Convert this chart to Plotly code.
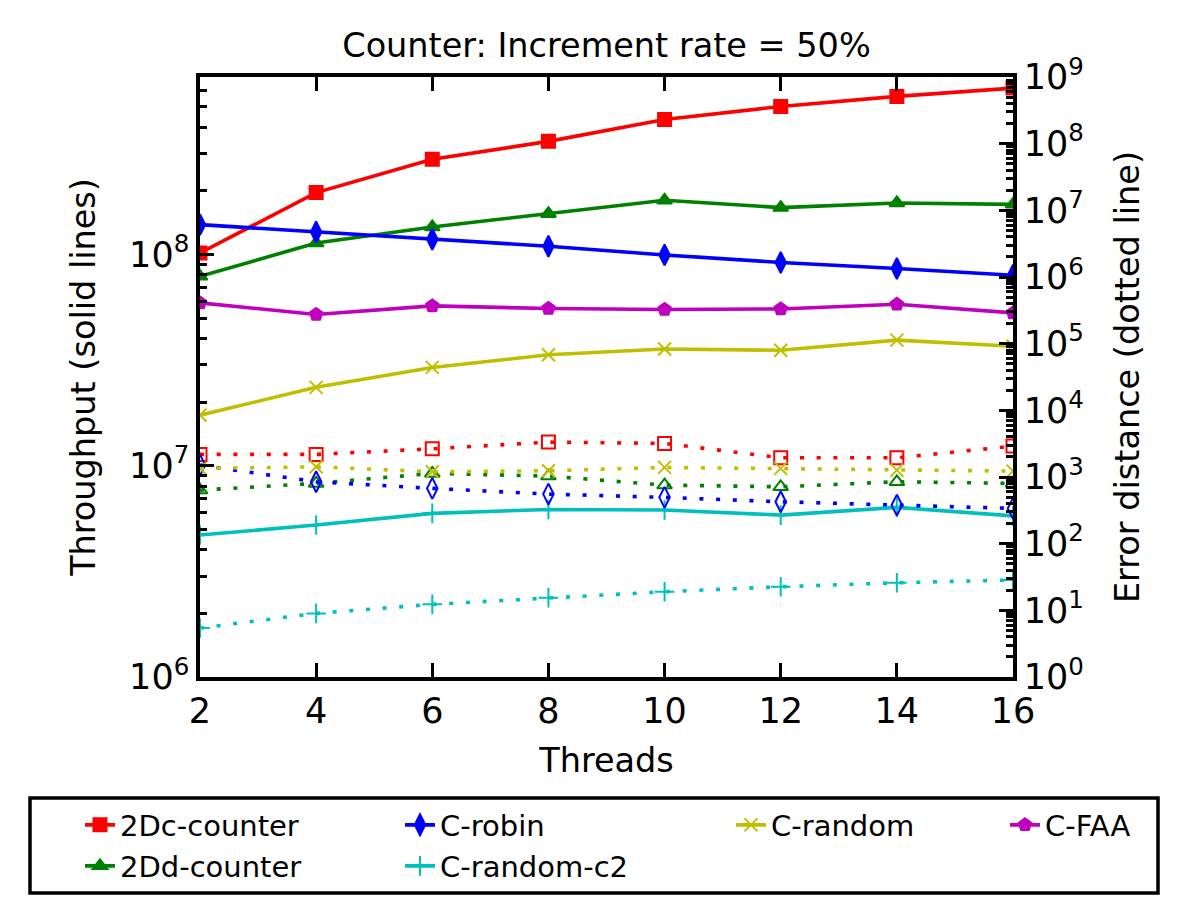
import plotly.graph_objects as go

threads = [2, 4, 6, 8, 10, 12, 14, 16]

# Throughput (left axis, solid lines)
thr_2dc = [1.016e8, 1.963e8, 2.82e8, 3.43e8, 4.35e8, 5.02e8, 5.6e8, 6.13e8]
thr_2dd = [7.88e7, 1.133e8, 1.349e8, 1.56e8, 1.805e8, 1.667e8, 1.753e8, 1.727e8]
thr_robin = [1.384e8, 1.277e8, 1.18e8, 1.094e8, 9.95e7, 9.16e7, 8.58e7, 7.97e7]
thr_faa = [5.9e7, 5.2e7, 5.71e7, 5.55e7, 5.49e7, 5.52e7, 5.81e7, 5.29e7]
thr_random = [1.735e7, 2.35e7, 2.92e7, 3.35e7, 3.57e7, 3.52e7, 3.93e7, 3.68e7]
thr_random_c2 = [4.7e6, 5.24e6, 5.95e6, 6.21e6, 6.17e6, 5.84e6, 6.35e6, 5.79e6]

# Error distance (right axis, dotted lines)
err_2dc = [2183, 2183, 2650, 3336, 3190, 1941, 1941, 2905]
err_2dd = [636, 802, 1132, 1031, 756, 713, 848, 802]
err_robin = [1508, 848, 675, 554, 495, 425, 379, 338]
err_random = [1346, 1422, 1197, 1239, 1393, 1346, 1269, 1225]
err_random_c2 = [5.43, 9.0, 12.3, 15.5, 19.0, 22.6, 25.9, 28.5]

left_tick_vals = [1e6, 1e7, 1e8]
left_tick_text = ["10<sup>6</sup>", "10<sup>7</sup>", "10<sup>8</sup>"]
right_tick_vals = [10 ** k for k in range(0, 10)]
right_tick_text = ["10<sup>%d</sup>" % k for k in range(0, 10)]

FONT = "DejaVu Sans"
RED, GREEN, BLUE = "#FF0000", "#008000", "#0000FF"
CYAN, MAGENTA, YELLOW = "#00BFBF", "#BF00BF", "#BFBF00"

fig = go.Figure()

solid = [
    ("2Dc-counter", thr_2dc, RED, "square", 13, "legend"),
    ("2Dd-counter", thr_2dd, GREEN, "triangle-up", 13, "legend2"),
    ("C-robin", thr_robin, BLUE, "diamond-tall", 15, "legend3"),
    ("C-random-c2", thr_random_c2, CYAN, "cross-thin", 14, "legend4"),
    ("C-random", thr_random, YELLOW, "x-thin", 13, "legend5"),
    ("C-FAA", thr_faa, MAGENTA, "pentagon", 13, "legend6"),
]
for name, vals, col, sym, sz, lg in solid:
    fig.add_trace(go.Scatter(
        x=threads, y=vals, name=name, mode="lines+markers",
        line=dict(color=col, width=3.6),
        marker=dict(symbol=sym, size=sz, color=col, line=dict(color=col, width=2)),
        legend=lg, yaxis="y",
    ))

dotted = [
    (err_2dc, RED, "square-open", 13),
    (err_2dd, GREEN, "triangle-up-open", 13),
    (err_robin, BLUE, "diamond-tall-open", 15),
    (err_random, YELLOW, "x-thin", 13),
    (err_random_c2, CYAN, "cross-thin", 14),
]
for vals, col, sym, sz in dotted:
    fig.add_trace(go.Scatter(
        x=threads, y=vals, mode="lines+markers", showlegend=False,
        line=dict(color=col, width=3.6, dash="4px,12.7px"),
        marker=dict(symbol=sym, size=sz, color=col, line=dict(color=col, width=2)),
        yaxis="y2",
    ))

def minor_vals(lo, hi):
    return [m * 10 ** k for k in range(lo, hi) for m in range(2, 10)]

tick_font = dict(family=FONT, size=35, color="black")

fig.update_layout(
    width=1187, height=924,
    paper_bgcolor="white", plot_bgcolor="white",
    margin=dict(l=200, r=174, t=77, b=247),
    font=dict(family=FONT, size=33, color="black"),
    title=dict(text="Counter: Increment rate = 50%", x=0.5, xref="paper",
               y=1 - 45 / 924, yanchor="middle", xanchor="center",
               font=dict(family=FONT, size=33.5, color="black")),
    xaxis=dict(
        range=[2, 16], tickmode="array", tickvals=threads,
        ticks="inside", ticklen=14, tickwidth=2.5, tickcolor="black",
        showline=True, linewidth=3.5, linecolor="black", mirror="ticks",
        showgrid=False, zeroline=False, tickfont=tick_font,
        title=dict(text="Threads", standoff=20, font=dict(family=FONT, size=33.5)),
    ),
    yaxis=dict(
        type="log", range=[6, 8.84], tickmode="array",
        tickvals=left_tick_vals, ticktext=left_tick_text,
        ticks="inside", ticklen=14, tickwidth=2.5, tickcolor="black",
        minor=dict(tickmode="array", tickvals=minor_vals(6, 9), ticks="inside",
                   ticklen=7, tickwidth=2.5, tickcolor="black", showgrid=False),
        showline=True, linewidth=3.5, linecolor="black",
        showgrid=False, zeroline=False, tickfont=tick_font,
        title=dict(text="Throughput (solid lines)", standoff=24, font=dict(family=FONT, size=33.5)),
    ),
    yaxis2=dict(
        type="log", range=[0, 9], overlaying="y", side="right", tickmode="array",
        tickvals=right_tick_vals, ticktext=right_tick_text,
        ticks="inside", ticklen=14, tickwidth=2.5, tickcolor="black",
        minor=dict(tickmode="array", tickvals=minor_vals(0, 9), ticks="inside",
                   ticklen=7, tickwidth=2.5, tickcolor="black", showgrid=False),
        showline=True, linewidth=3.5, linecolor="black",
        showgrid=False, zeroline=False, tickfont=tick_font,
        title=dict(text="Error distance (dotted line)", standoff=34, font=dict(family=FONT, size=33.5)),
    ),
)

leg_font = dict(family=FONT, size=29, color="black")
row1, row2 = (677 - 825) / 600, (677 - 866) / 600
col_x = [(80 - 200) / 813, (400 - 200) / 813, (731 - 200) / 813, (1005 - 200) / 813]
legend_pos = {
    "legend": (col_x[0], row1), "legend2": (col_x[0], row2),
    "legend3": (col_x[1], row1), "legend4": (col_x[1], row2),
    "legend5": (col_x[2], row1), "legend6": (col_x[3], row1),
}
for key, (lx, ly) in legend_pos.items():
    fig.update_layout({key: dict(x=lx, y=ly, xanchor="left", yanchor="middle",
                                 xref="paper", yref="paper",
                                 bgcolor="rgba(0,0,0,0)", borderwidth=0,
                                 font=leg_font)})

fig.add_shape(type="rect", xref="paper", yref="paper",
              x0=(30 - 200) / 813, x1=(1158 - 200) / 813,
              y0=(677 - 893) / 600, y1=(677 - 798) / 600,
              line=dict(color="black", width=3.5), fillcolor="rgba(0,0,0,0)")

fig.write_html("out.html")
